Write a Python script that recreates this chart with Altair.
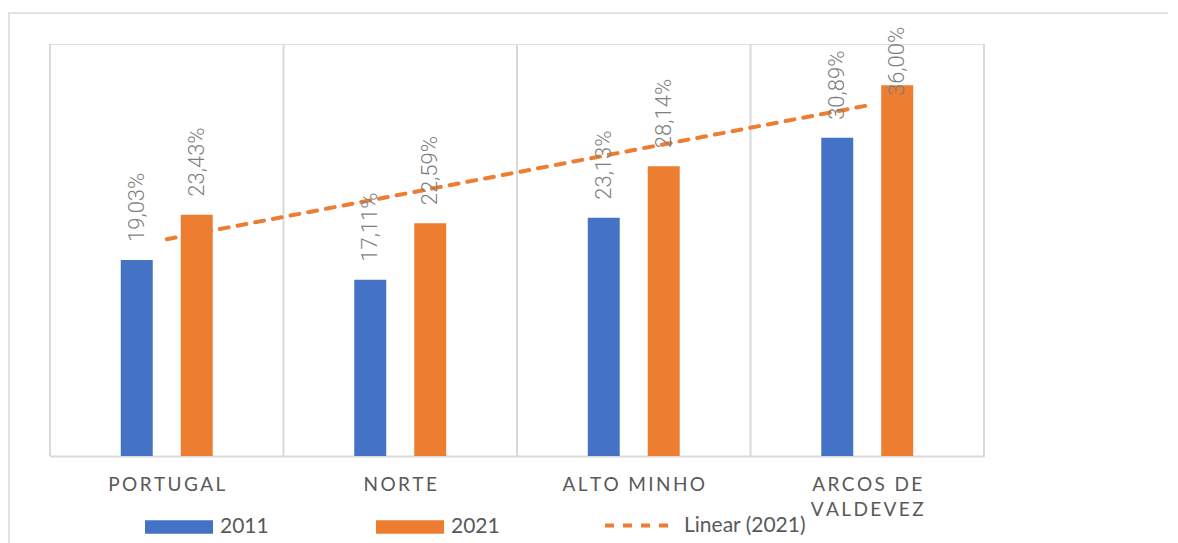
import json
import altair as alt
import pandas as pd

# ---- data ----
categories = ["PORTUGAL", "NORTE", "ALTO MINHO", "ARCOS DE VALDEVEZ"]
years = ["2011", "2021"]
values_2011 = [19.03, 17.11, 23.13, 30.89]
values_2021 = [23.43, 22.59, 28.14, 36.00]
trend_name = "Linear (2021)"

colors = ["#4472C4", "#ED7D31"]

rows = []
for i, c in enumerate(categories):
    rows.append({"category": c, "idx": i + 1, "year": "2011", "value": values_2011[i]})
    rows.append({"category": c, "idx": i + 1, "year": "2021", "value": values_2021[i]})
df = pd.DataFrame(rows)
cat_df = pd.DataFrame({"category": categories})
frame_df = pd.DataFrame({"a": [0]})

W, H = 934, 412
GRID = "#D9D9D9"
TXT = "#595959"

x_enc = alt.X(
    "category:N",
    sort=categories,
    scale=alt.Scale(paddingInner=0, paddingOuter=0),
    axis=alt.Axis(
        title=None,
        ticks=False,
        grid=False,
        domain=True,
        domainColor=GRID,
        domainWidth=2,
        labelAngle=0,
        labelAlign="center",
        labelPadding=19,
        labelFont="Lato",
        labelFontSize=19,
        labelColor=TXT,
        labelLineHeight=25,
        labelBaseline="top",
        labelLimit=300,
        labelExpr=(
            "datum.label == 'ARCOS DE VALDEVEZ' ? "
            "[join(split('ARCOS DE', ''), '\u2009'), join(split('VALDEVEZ', ''), '\u2009')] : "
            "join(split(datum.label, ''), '\u2009')"
        ),
    ),
)
y_scale = alt.Scale(domain=[0, 40], nice=False, zero=True)

frame = alt.Chart(frame_df).mark_rect(
    fill="transparent", stroke=GRID, strokeWidth=1.5
).encode(
    x=alt.value(-41), x2=alt.value(W + 400), y=alt.value(-31), y2=alt.value(H + 300)
)

grid_left = alt.Chart(cat_df).mark_rule(color=GRID, strokeWidth=2).encode(
    x=alt.X("category:N", sort=categories, bandPosition=0)
)
grid_right = alt.Chart(cat_df).transform_filter(
    alt.datum.category == categories[-1]
).mark_rule(color=GRID, strokeWidth=2).encode(
    x=alt.X("category:N", sort=categories, bandPosition=1)
)

# two empty slots around the two year bars give the wide side gaps
xoff = alt.XOffset(
    "year:N",
    scale=alt.Scale(domain=["_pad0"] + years + ["_pad1"], paddingInner=0.467, paddingOuter=0.18),
)

bars = alt.Chart(df).mark_bar().encode(
    x=x_enc,
    xOffset=xoff,
    y=alt.Y("value:Q", scale=y_scale, axis=None),
    color=alt.Color(
        "year:N",
        scale=alt.Scale(domain=years, range=colors),
        legend=alt.Legend(
            title=None,
            orient="none",
            direction="horizontal",
            legendX=95,
            legendY=449,
            padding=0,
            symbolType="M-1,-0.2H1V0.2H-1Z",
            symbolSize=4624,
            symbolStrokeWidth=0,
            labelFont="Lato",
            labelFontSize=21,
            labelColor=TXT,
            labelOffset=7,
            columnPadding=107,
        ),
    ),
)

labels = alt.Chart(df).transform_calculate(
    label="replace(format(datum.value, '.2f'), '.', ',') + '%'",
    labelpos="min(datum.value, 33.2)",
).mark_text(
    angle=270,
    align="left",
    baseline="middle",
    dx=18,
    font="Roboto",
    fontWeight=300,
    fontSize=22,
    color="#7F7F7F",
).encode(
    x=alt.X("category:N", sort=categories),
    xOffset=xoff,
    y=alt.Y("labelpos:Q", scale=y_scale),
    text="label:N",
)

trend = alt.Chart(df).transform_filter(
    alt.datum.year == "2021"
).transform_regression(
    "idx", "value", method="linear", extent=[1, len(categories)]
).transform_calculate(
    category=json.dumps(categories) + "[round(datum.idx) - 1]",
    series="'" + trend_name + "'",
).mark_line(
    color="#ED7D31", strokeWidth=4, strokeCap="round"
).encode(
    x=alt.X("category:N", sort=categories),
    y=alt.Y("value:Q", scale=y_scale),
    strokeDash=alt.StrokeDash(
        "series:N",
        scale=alt.Scale(domain=[trend_name], range=[[9, 9]]),
        legend=alt.Legend(
            title=None,
            orient="none",
            direction="horizontal",
            legendX=553,
            legendY=444,
            padding=0,
            symbolType="stroke",
            symbolSize=5041,
            symbolStrokeColor="#ED7D31",
            symbolStrokeWidth=4,
            labelFont="Lato",
            labelFontSize=21,
            labelColor=TXT,
            labelOffset=6,
        ),
    ),
)

chart = alt.layer(frame, grid_left, grid_right, bars, trend, labels).properties(
    width=W,
    height=H,
    autosize=alt.AutoSizeParams(type="none"),
    padding={"left": 42, "top": 36, "right": 184, "bottom": 87},
).resolve_legend(color="independent", strokeDash="independent").configure_view(
    stroke=None
).configure(background="white")

chart.save("out.html", embed_options={"renderer": "svg", "actions": False})
